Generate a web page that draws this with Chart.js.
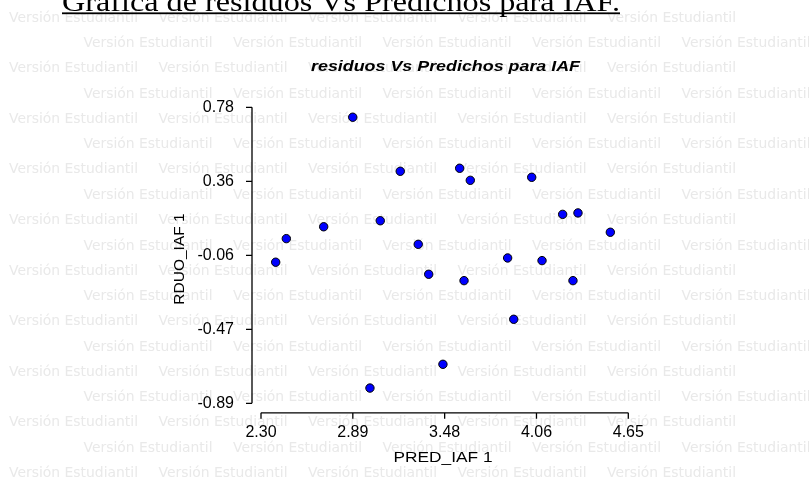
<!DOCTYPE html>
<html>
<head>
<meta charset="utf-8">
<script src="https://cdn.jsdelivr.net/npm/chart.js@4/dist/chart.umd.min.js"></script>
<style>
  html, body { margin: 0; padding: 0; background: #fff; }
  canvas { display: block; }
</style>
</head>
<body>
<canvas id="chart" width="809" height="484"></canvas>
<script>
// predicted IAF vs residuals
const predIAF = [2.394, 2.462, 2.701, 2.887, 2.997, 3.063, 3.191, 3.306, 3.373, 3.464, 3.571,
                 3.599, 3.639, 3.878, 3.917, 4.032, 4.098, 4.230, 4.296, 4.328, 4.535];
const rduoIAF = [-0.094, 0.039, 0.106, 0.724, -0.804, 0.140, 0.419, 0.007, -0.162, -0.670, 0.436,
                 -0.198, 0.368, -0.070, -0.416, 0.385, -0.085, 0.176, -0.198, 0.184, 0.075];

const xTickValues = [2.30, 2.8875, 3.475, 4.0625, 4.65];
const xTickLabels = ['2.30', '2.89', '3.48', '4.06', '4.65'];
const yTickValues = [-0.89, -0.4725, -0.055, 0.3625, 0.78];
const yTickLabels = ['-0.89', '-0.47', '-0.06', '0.36', '0.78'];

const heading = 'Gráfica de residuos Vs Predichos para IAF.';
const chartTitle = 'residuos Vs Predichos para IAF';
const xTitle = 'PRED_IAF 1';
const yTitle = 'RDUO_IAF 1';
const stamp = 'Versión Estudiantil';

// text squeezed/stretched horizontally to a given width
function fitText(ctx, text, x, y, width, align) {
  const w = ctx.measureText(text).width;
  ctx.save();
  ctx.translate(x, y);
  ctx.scale(width / w, 1);
  ctx.textAlign = align;
  ctx.fillText(text, 0, 0);
  ctx.restore();
}

const stampPlugin = {
  id: 'stamp',
  beforeDraw(chart) {
    const ctx = chart.ctx;
    ctx.save();
    ctx.font = '14px "DejaVu Sans"';
    ctx.fillStyle = '#e9e9e9';
    ctx.textBaseline = 'middle';
    for (let k = 0; k < 10; k++) {
      for (let i = 0; i < 5; i++) {
        fitText(ctx, stamp, 9 + i * 149.5, 18 + k * 50.6, 129, 'left');
        if (k < 9) fitText(ctx, stamp, 83.5 + i * 149.5, 43.5 + k * 50.6, 129, 'left');
      }
    }
    ctx.restore();
  }
};

const axesPlugin = {
  id: 'axes',
  beforeDatasetsDraw(chart) {
    const ctx = chart.ctx;
    const xs = chart.scales.x, ys = chart.scales.y;
    const ax = chart.chartArea.left - 9;
    const ay = chart.chartArea.bottom + 9.5;
    ctx.save();
    ctx.strokeStyle = '#000';
    ctx.lineWidth = 1.3;
    ctx.beginPath();
    ctx.moveTo(ax, ys.getPixelForValue(yTickValues[yTickValues.length - 1]));
    ctx.lineTo(ax, ys.getPixelForValue(yTickValues[0]));
    yTickValues.forEach(v => {
      const p = ys.getPixelForValue(v);
      ctx.moveTo(ax - 6, p);
      ctx.lineTo(ax, p);
    });
    ctx.moveTo(xs.getPixelForValue(xTickValues[0]), ay);
    ctx.lineTo(xs.getPixelForValue(xTickValues[xTickValues.length - 1]), ay);
    xTickValues.forEach(v => {
      const p = xs.getPixelForValue(v);
      ctx.moveTo(p, ay);
      ctx.lineTo(p, ay + 6);
    });
    ctx.stroke();
    ctx.restore();
  },
  afterDraw(chart) {
    const ctx = chart.ctx;
    ctx.save();
    ctx.fillStyle = '#000';

    ctx.font = '28px "Liberation Serif"';
    ctx.textBaseline = 'alphabetic';
    fitText(ctx, heading, 62, 11, 558, 'left');
    ctx.fillRect(62, 12.4, 558, 1.8);

    ctx.textBaseline = 'middle';
    ctx.font = 'italic bold 15px "Liberation Sans"';
    fitText(ctx, chartTitle, 445.5, 66.5, 269, 'center');

    ctx.font = '15px "Liberation Sans"';
    fitText(ctx, xTitle, 443, 458, 99, 'center');

    ctx.translate(179.5, 259);
    ctx.rotate(-Math.PI / 2);
    ctx.font = '15.5px "Liberation Sans"';
    ctx.textAlign = 'center';
    ctx.fillText(yTitle, 0, 0);
    ctx.restore();
  }
};

const tickFont = { family: 'Liberation Sans', size: 16 };

new Chart(document.getElementById('chart'), {
  type: 'scatter',
  data: {
    datasets: [{
      data: predIAF.map((x, i) => ({ x: x, y: rduoIAF[i] })),
      backgroundColor: '#0000ff',
      borderColor: '#000',
      borderWidth: 1,
      pointRadius: 4.2,
      clip: false
    }]
  },
  options: {
    responsive: false,
    animation: false,
    layout: { padding: { top: 107.3, right: 180.7, left: 0, bottom: 0 } },
    plugins: { legend: { display: false }, tooltip: { enabled: false } },
    scales: {
      x: {
        type: 'linear',
        min: 2.30,
        max: 4.65,
        grid: { display: false },
        border: { display: false },
        afterBuildTicks: s => { s.ticks = xTickValues.map(v => ({ value: v })); },
        afterFit: s => { s.height = 80.7; },
        ticks: {
          padding: 12,
          color: '#000',
          font: tickFont,
          maxRotation: 0,
          autoSkip: false,
          callback: (v, i) => xTickLabels[i]
        }
      },
      y: {
        type: 'linear',
        min: -0.89,
        max: 0.78,
        grid: { display: false },
        border: { display: false },
        afterBuildTicks: s => { s.ticks = yTickValues.map(v => ({ value: v })); },
        afterFit: s => { s.width = 261; },
        ticks: {
          padding: 19,
          color: '#000',
          font: tickFont,
          autoSkip: false,
          callback: (v, i) => yTickLabels[i]
        }
      }
    }
  },
  plugins: [stampPlugin, axesPlugin]
});
</script>
</body>
</html>
